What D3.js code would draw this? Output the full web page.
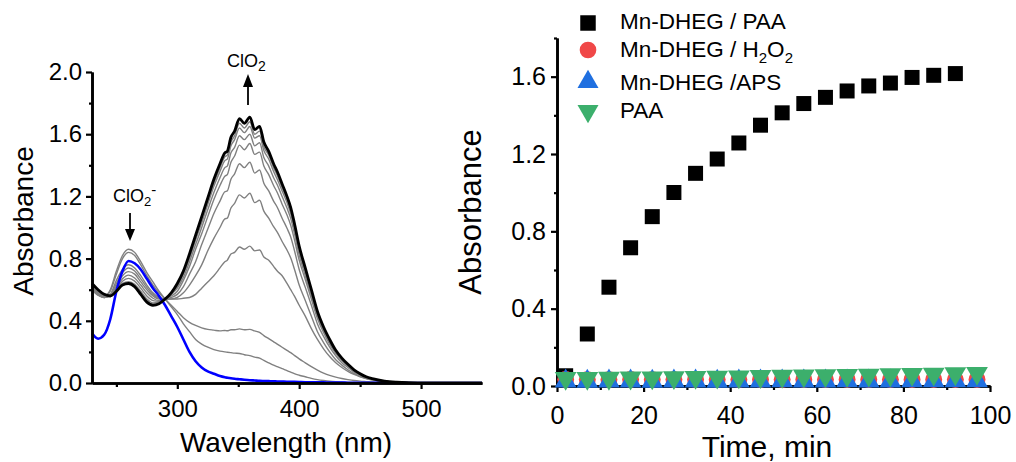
<!DOCTYPE html>
<head>
   <meta charset="utf-8">
   <script src="https://d3js.org/d3.v7.min.js"></script>
   <style>
   body{ margin:0; background:#fff; }
   text{
      font-family: "Liberation Sans", Arial, sans-serif;
      fill:#000;
   }
   .axis path.domain{ stroke:#000; stroke-width:2.6; }
   .axis .tick line{ stroke:#000; stroke-width:2.2; }
   .axis.left .tick text{ font-size:24px; }
   .axis.right .tick text{ font-size:25px; }
   text.axTitle{ font-size:28px; }
   text.legend{ font-size:22.5px; }
   text.note{ font-size:18px; }
   </style>
   <title>ClO2 spectra</title>
</head>
<body>
<script>
const width  = 1016;
const height = 462;

// ---- left panel: UV-vis spectra (wavelength grid, nm) ----
const wavelengths = [230,235,240,245,250,255,260,265,270,275,280,285,290,295,300,305,310,315,320,325,330,335,
   339,341,344,347,351,355,359.5,363.5,367.5,371,375,379,382,386,390,393,396,
   400,405,410,415,420,425,430,435,440,445,450,455,460,
   470,480,490,500,520,550];

const blueSpectrum = [.32,.285,.31,.41,.59,.72,.785,.77,.73,.67,.61,.56,.50,.43,.36,.28,.20,.14,.10,.075,.06,.045,
   .037,.034,.030,.027,.024,.021,.018,.016,.014,.013,.012,.011,.010,.009,.008,.008,.007,
   .006,.005,.005,.004,.004,.003,.003,.003,.002,.002,.002,.002,.001,
   .001,.001,0,0,0,0];
const gray1 = [.60,.57,.56,.60,.72,.82,.86,.84,.78,.71,.65,.59,.54,.49,.44,.38,.33,.28,.25,.23,.215,.205,
   .20,.198,.195,.192,.19,.182,.176,.166,.16,.145,.13,.115,.105,.092,.08,.07,.06,
   .05,.04,.03,.022,.016,.011,.008,.006,.004,.003,.002,.002,.001,
   .001,0,0,0,0,0];
const gray2 = [.61,.57,.555,.59,.70,.80,.84,.82,.76,.69,.63,.58,.54,.50,.46,.42,.39,.37,.355,.345,.34,.335,
   .338,.336,.342,.342,.348,.342,.345,.335,.325,.305,.285,.265,.25,.23,.21,.195,.178,
   .155,.13,.105,.083,.064,.049,.038,.029,.022,.016,.012,.009,.006,
   .003,.001,0,0,0,0];
const gray3 = [.60,.565,.55,.57,.66,.73,.76,.74,.69,.63,.58,.55,.54,.54,.54,.545,.55,.57,.61,.65,.69,.74,
   .78,.79,.83,.84,.875,.86,.88,.85,.855,.81,.79,.75,.72,.69,.64,.60,.56,
   .50,.43,.35,.28,.22,.17,.13,.10,.075,.055,.04,.028,.02,
   .009,.004,.002,.001,0,0];
const gray4 = [.60,.565,.55,.565,.64,.71,.74,.72,.67,.615,.57,.545,.54,.54,.55,.58,.63,.69,.76,.85,.93,1.00,
   1.055,1.06,1.125,1.155,1.21,1.19,1.22,1.16,1.175,1.105,1.06,1.005,.97,.91,.855,.805,.735,
   .63,.53,.43,.33,.26,.20,.15,.115,.085,.06,.043,.029,.02,
   .009,.004,.0015,.001,0,0];
const gray5 = [.61,.57,.55,.56,.625,.69,.716,.70,.65,.60,.56,.54,.54,.55,.57,.62,.70,.78,.89,.99,1.09,1.17,
   1.23,1.235,1.31,1.345,1.41,1.385,1.42,1.35,1.37,1.285,1.235,1.17,1.13,1.06,.995,.94,.855,
   .73,.615,.50,.38,.30,.23,.175,.13,.10,.07,.05,.033,.023,
   .01,.004,.002,.001,0,0];
const gray6 = [.615,.575,.553,.558,.61,.67,.694,.675,.63,.58,.545,.53,.54,.56,.59,.66,.75,.86,.96,1.07,1.18,1.27,
   1.33,1.34,1.42,1.46,1.53,1.50,1.54,1.47,1.485,1.395,1.34,1.27,1.225,1.15,1.08,1.015,.925,
   .79,.665,.54,.415,.325,.25,.19,.145,.108,.077,.054,.036,.025,
   .011,.0045,.002,.001,0,0];
const gray7 = [.62,.58,.556,.556,.60,.655,.673,.655,.61,.56,.53,.525,.54,.57,.61,.68,.78,.89,1.00,1.115,1.225,1.32,
   1.385,1.395,1.48,1.515,1.59,1.565,1.60,1.525,1.545,1.45,1.395,1.32,1.275,1.20,1.125,1.06,.965,
   .825,.69,.56,.43,.335,.26,.195,.15,.112,.08,.056,.037,.026,
   .011,.005,.002,.001,0,0];
const gray8 = [.625,.585,.56,.555,.595,.64,.651,.635,.59,.54,.515,.52,.54,.575,.62,.70,.80,.92,1.03,1.15,1.265,1.36,
   1.43,1.44,1.525,1.565,1.64,1.61,1.65,1.575,1.59,1.495,1.44,1.36,1.31,1.235,1.16,1.09,.995,
   .85,.715,.58,.445,.345,.27,.20,.155,.115,.082,.058,.039,.027,
   .012,.005,.002,.001,0,0];
const gray9 = [.63,.59,.565,.556,.59,.635,.645,.625,.58,.53,.505,.515,.54,.578,.63,.71,.815,.935,1.05,1.17,1.285,1.385,
   1.455,1.465,1.55,1.59,1.67,1.64,1.68,1.60,1.62,1.52,1.465,1.385,1.335,1.255,1.18,1.11,1.01,
   .865,.725,.59,.45,.355,.275,.205,.157,.118,.083,.059,.039,.027,
   .012,.005,.002,.001,0,0];
const blackSpectrum = [.64,.60,.57,.56,.59,.63,.64,.62,.57,.52,.50,.51,.54,.58,.64,.72,.83,.95,1.07,1.19,1.31,1.41,
   1.48,1.49,1.58,1.62,1.70,1.67,1.71,1.63,1.65,1.55,1.49,1.41,1.36,1.28,1.20,1.13,1.03,
   .88,.74,.60,.46,.36,.28,.21,.16,.12,.085,.06,.04,.028,
   .012,.005,.002,.001,0,0];

const leftYTicks  = [0, 0.4, 0.8, 1.2, 1.6, 2.0];
const leftYMinor  = [0.2, 0.6, 1.0, 1.4, 1.8];
const leftXTicks  = [300, 400, 500];
const leftXMinor  = [250, 350, 450];

// ---- right panel: kinetics ----
const timesPAA   = [2,7,12,17,22,27,32,37,42,47,52,57,62,67,72,77,82,87,92];
const mnPAA      = [0.053,0.269,0.511,0.715,0.876,1.001,1.10,1.174,1.257,1.349,1.413,1.461,1.493,1.526,1.552,1.567,1.596,1.607,1.616];
const timesCtrl  = [2,7,12,17,22,27,32,37,42,47,52,57,62,67,72,77,82,87,92,97];
const mnH2O2     = [0.034,0.033,0.033,0.034,0.033,0.033,0.034,0.033,0.033,0.034,0.033,0.034,0.033,0.034,0.034,0.033,0.034,0.034,0.033,0.034];
const mnAPS      = [0.025,0.024,0.025,0.025,0.024,0.025,0.025,0.024,0.025,0.025,0.026,0.025,0.025,0.026,0.025,0.025,0.026,0.026,0.026,0.026];
const paaOnly    = [0.040,0.040,0.041,0.042,0.043,0.044,0.045,0.047,0.048,0.050,0.051,0.053,0.054,0.056,0.057,0.059,0.061,0.062,0.064,0.066];

const rightYTicks = [0, 0.4, 0.8, 1.2, 1.6];
const rightYMinor = [0.2, 0.6, 1.0, 1.4, 1.8];
const rightXTicks = [0, 20, 40, 60, 80, 100];
const rightXMinor = [10, 30, 50, 70, 90];

const svg = d3.select("body").append("svg")
   .attr("width", width)
   .attr("height", height);

// ================= left panel =================
const xL = d3.scaleLinear().domain([230, 550]).range([92, 482]);
const yL = d3.scaleLinear().domain([0, 2]).range([383, 72]);

const line = d3.line()
   .x(d => xL(d[0]))
   .y(d => yL(d[1]))
   .curve(d3.curveMonotoneX);

const zip = vals => wavelengths.map((w, i) => [w, vals[i]]);

const grays = [gray1, gray2, gray3, gray4, gray5, gray6, gray7, gray8, gray9];
svg.append("g").selectAll("path.gray")
   .data(grays)
   .enter().append("path")
   .attr("class", "gray")
   .attr("d", d => line(zip(d)))
   .attr("fill", "none")
   .attr("stroke", "#808080")
   .attr("stroke-width", 1.4);

svg.append("path")
   .attr("d", line(zip(blueSpectrum)))
   .attr("fill", "none")
   .attr("stroke", "#0000ff")
   .attr("stroke-width", 2.6);

svg.append("path")
   .attr("d", line(zip(blackSpectrum)))
   .attr("fill", "none")
   .attr("stroke", "#000")
   .attr("stroke-width", 2.8);

svg.append("g")
   .attr("class", "axis left")
   .attr("transform", `translate(${xL(230)},0)`)
   .call(d3.axisLeft(yL).tickValues(leftYTicks).tickSize(6).tickPadding(4).tickSizeOuter(0).tickFormat(d3.format(".1f")));
svg.append("g")
   .attr("class", "axis left")
   .attr("transform", `translate(${xL(230)},0)`)
   .call(d3.axisLeft(yL).tickValues(leftYMinor).tickSize(3).tickSizeOuter(0).tickFormat(""));

svg.append("g")
   .attr("class", "axis left")
   .attr("transform", `translate(0,${yL(0)})`)
   .call(d3.axisBottom(xL).tickValues(leftXTicks).tickSize(6).tickPadding(11).tickSizeOuter(0));
svg.append("g")
   .attr("class", "axis left")
   .attr("transform", `translate(0,${yL(0)})`)
   .call(d3.axisBottom(xL).tickValues(leftXMinor).tickSize(4).tickSizeOuter(0).tickFormat(""));

svg.append("text")
   .attr("class", "axTitle")
   .attr("transform", `translate(33,221) rotate(-90)`)
   .style("text-anchor", "middle")
   .text("Absorbance");

svg.append("text")
   .attr("class", "axTitle")
   .attr("x", 286).attr("y", 452)
   .style("text-anchor", "middle")
   .text("Wavelength (nm)");

// annotations
const t1 = svg.append("text").attr("class", "note").attr("x", 113).attr("y", 202);
t1.append("tspan").text("ClO");
t1.append("tspan").attr("font-size", "13px").attr("dy", 4).text("2");
t1.append("tspan").attr("font-size", "15px").attr("dy", -11).text("-");

svg.append("line").attr("x1", 130).attr("x2", 130).attr("y1", 213).attr("y2", 232)
   .attr("stroke", "#000").attr("stroke-width", 1.8);
svg.append("path").attr("d", "M125,229L135,229L130,241Z").attr("fill", "#000");

const t2 = svg.append("text").attr("class", "note").attr("x", 227).attr("y", 67);
t2.append("tspan").text("ClO");
t2.append("tspan").attr("font-size", "14px").attr("dy", 4).text("2");

svg.append("line").attr("x1", 248).attr("x2", 248).attr("y1", 84).attr("y2", 105)
   .attr("stroke", "#000").attr("stroke-width", 1.8);
svg.append("path").attr("d", "M243,87L253,87L248,74Z").attr("fill", "#000");

// ================= right panel =================
const xR = d3.scaleLinear().domain([0, 100]).range([557, 990]);
const yR = d3.scaleLinear().domain([0, 1.8]).range([386, 38]);

svg.append("g")
   .attr("class", "axis right")
   .attr("transform", `translate(${xR(0)},0)`)
   .call(d3.axisLeft(yR).tickValues(rightYTicks).tickSize(6).tickPadding(5).tickSizeOuter(0).tickFormat(d3.format(".1f")));
svg.append("g")
   .attr("class", "axis right")
   .attr("transform", `translate(${xR(0)},0)`)
   .call(d3.axisLeft(yR).tickValues(rightYMinor).tickSize(3).tickSizeOuter(0).tickFormat(""));

svg.append("g")
   .attr("class", "axis right")
   .attr("transform", `translate(0,${yR(0)})`)
   .call(d3.axisBottom(xR).tickValues(rightXTicks).tickSize(6).tickPadding(14).tickSizeOuter(0));
svg.append("g")
   .attr("class", "axis right")
   .attr("transform", `translate(0,${yR(0)})`)
   .call(d3.axisBottom(xR).tickValues(rightXMinor).tickSize(4).tickSizeOuter(0).tickFormat(""));

const series = [
   {t: timesPAA,  v: mnPAA,    type: d3.symbolSquare,   size: 225, color: "#000",    rot: 0},
   {t: timesCtrl, v: mnH2O2,   type: d3.symbolCircle,   size: 225, color: "#f04848", rot: 0},
   {t: timesCtrl, v: mnAPS,    type: d3.symbolTriangle, size: 205, color: "#1f6fe0", rot: 0},
   {t: timesCtrl, v: paaOnly,  type: d3.symbolTriangle, size: 205, color: "#3caf6c", rot: 180}
];

series.forEach(s => {
   svg.append("g").selectAll("path")
      .data(s.t.map((t, i) => [t, s.v[i]]))
      .enter().append("path")
      .attr("d", d3.symbol().type(s.type).size(s.size))
      .attr("transform", d => `translate(${xR(d[0])},${yR(d[1])}) rotate(${s.rot})`)
      .attr("fill", s.color);
});

svg.append("text")
   .attr("class", "axTitle")
   .style("font-size", "31px")
   .attr("transform", `translate(481,212) rotate(-90)`)
   .style("text-anchor", "middle")
   .text("Absorbance");

svg.append("text")
   .attr("class", "axTitle")
   .style("font-size", "30px")
   .attr("x", 767).attr("y", 457)
   .style("text-anchor", "middle")
   .text("Time, min");

// legend
const legendRows = [
   {s: series[0], my: 23,  size: 240},
   {s: series[1], my: 50,  size: 218},
   {s: series[2], my: 82,  size: 191},
   {s: series[3], my: 111, size: 191}
];
legendRows.forEach(r => {
   svg.append("path")
      .attr("d", d3.symbol().type(r.s.type).size(r.size))
      .attr("transform", `translate(588,${r.my}) rotate(${r.s.rot})`)
      .attr("fill", r.s.color);
});
svg.append("text").attr("class", "legend").attr("x", 620).attr("y", 29).text("Mn-DHEG / PAA");
const lg2 = svg.append("text").attr("class", "legend").attr("x", 620).attr("y", 57);
lg2.append("tspan").text("Mn-DHEG / H");
lg2.append("tspan").attr("font-size", "15px").attr("dy", 6).text("2");
lg2.append("tspan").attr("dy", -6).text("O");
lg2.append("tspan").attr("font-size", "15px").attr("dy", 6).text("2");
svg.append("text").attr("class", "legend").attr("x", 620).attr("y", 90).text("Mn-DHEG /APS");
svg.append("text").attr("class", "legend").attr("x", 620).attr("y", 118).text("PAA");
</script>
</body>
